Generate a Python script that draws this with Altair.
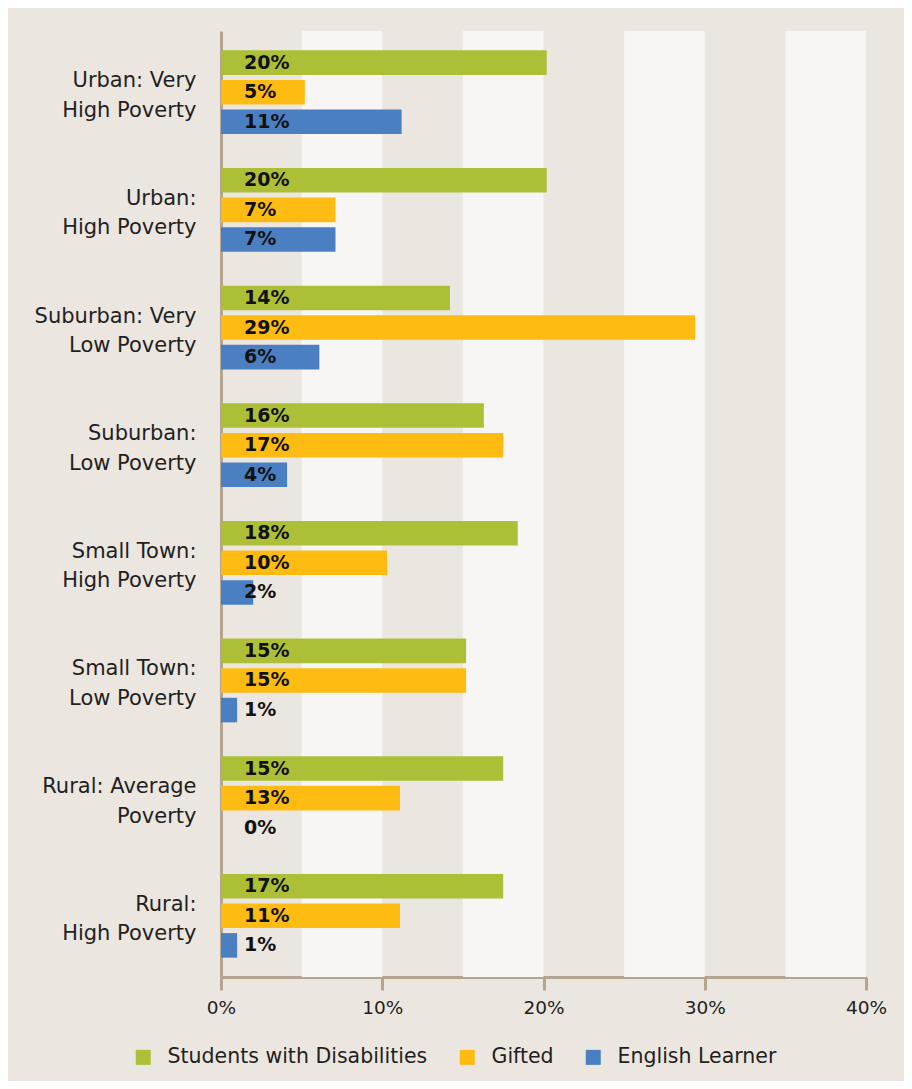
import altair as alt
import pandas as pd

categories = [
    "Urban: Very\nHigh Poverty",
    "Urban:\nHigh Poverty",
    "Suburban: Very\nLow Poverty",
    "Suburban:\nLow Poverty",
    "Small Town:\nHigh Poverty",
    "Small Town:\nLow Poverty",
    "Rural: Average\nPoverty",
    "Rural:\nHigh Poverty",
]
series = ["Students with Disabilities", "Gifted", "English Learner"]
colors = ["#adbf37", "#febb12", "#4a80c1"]

# bar lengths as drawn (percent)
swd_values = [20.2, 20.2, 14.2, 16.3, 18.4, 15.2, 17.5, 17.5]
gifted_values = [5.2, 7.1, 29.4, 17.5, 10.3, 15.2, 11.1, 11.1]
el_values = [11.2, 7.1, 6.1, 4.1, 2.0, 1.0, 0.0, 1.0]

# value labels as printed
swd_labels = ["20%", "20%", "14%", "16%", "18%", "15%", "15%", "17%"]
gifted_labels = ["5%", "7%", "29%", "17%", "10%", "15%", "13%", "11%"]
el_labels = ["11%", "7%", "6%", "4%", "2%", "1%", "0%", "1%"]

stripe_start = [5, 15, 25, 35]
stripe_end = [10, 20, 30, 40]
x_ticks = [0, 10, 20, 30, 40]

rows = []
for vals, labs, s in [(swd_values, swd_labels, series[0]),
                      (gifted_values, gifted_labels, series[1]),
                      (el_values, el_labels, series[2])]:
    for c, v, l in zip(categories, vals, labs):
        rows.append({"category": c, "series": s, "value": v, "label": l})
df = pd.DataFrame(rows)
stripes = pd.DataFrame({"start": stripe_start, "end": stripe_end})

FONT = "DejaVu Sans"
AXIS_COLOR = "#b3a58f"
BG = "#ebe6e0"
TEXT = "#231f20"

x_scale = alt.Scale(domain=[0, 40], nice=False, zero=True)
y_enc = alt.Y(
    "category:N",
    sort=categories,
    scale=alt.Scale(paddingInner=0.2455, paddingOuter=0.143),
    axis=alt.Axis(
        title=None,
        labelExpr="split(datum.label, '\\n')",
        labelFontSize=21,
        labelFont=FONT,
        labelColor=TEXT,
        labelLineHeight=29.5,
        labelPadding=25,
        labelOffset=-11,
        labelLimit=300,
        ticks=False,
        domainColor=AXIS_COLOR,
        domainWidth=3,
        labelAlign="right",
        labelBaseline="middle",
    ),
)
yoff_enc = alt.YOffset(
    "series:N",
    sort=series,
    scale=alt.Scale(domain=series, paddingInner=0.17, paddingOuter=0.085),
)

stripe_layer = alt.Chart(stripes).mark_rect(color="#f7f6f4").encode(
    x=alt.X("start:Q", scale=x_scale,
            axis=alt.Axis(
                values=x_ticks,
                title=None,
                labelExpr="datum.value + '%'",
                labelFontSize=18.5,
                labelFont=FONT,
                labelColor=TEXT,
                labelFlush=False,
                domainColor=AXIS_COLOR,
                domainWidth=3,
                tickColor=AXIS_COLOR,
                tickWidth=3,
                tickSize=13,
                labelPadding=8,
                grid=False,
            )),
    x2="end:Q",
)

bars = alt.Chart(df).mark_bar().encode(
    x=alt.X("value:Q", scale=x_scale),
    y=y_enc,
    yOffset=yoff_enc,
    color=alt.Color(
        "series:N",
        scale=alt.Scale(domain=series, range=colors),
        legend=alt.Legend(
            title=None,
            orient="none",
            direction="horizontal",
            legendX=-88,
            legendY=1016,
            symbolType="square",
            symbolSize=225,
            symbolStrokeWidth=0,
            symbolOpacity=1,
            labelFontSize=20.5,
            labelFont=FONT,
            labelColor=TEXT,
            labelOffset=14,
            labelLimit=400,
            columnPadding=29,
        ),
    ),
)

labels = alt.Chart(df).mark_text(
    align="left", baseline="middle", dx=23, fontSize=19, fontWeight="bold",
    font=FONT, color="#111111",
).encode(
    x=alt.datum(0, scale=x_scale),
    y=y_enc,
    yOffset=yoff_enc,
    text="label:N",
)

chart = alt.layer(stripe_layer, bars, labels).properties(
    width=645,
    height=946,
    background=BG,
    padding={"left": 213, "top": 23, "right": 38, "bottom": 104},
    autosize=alt.AutoSizeParams(type="none"),
).configure_view(stroke=None, fill=BG)

chart.save("out.html", embed_options={"renderer": "svg", "actions": False})
